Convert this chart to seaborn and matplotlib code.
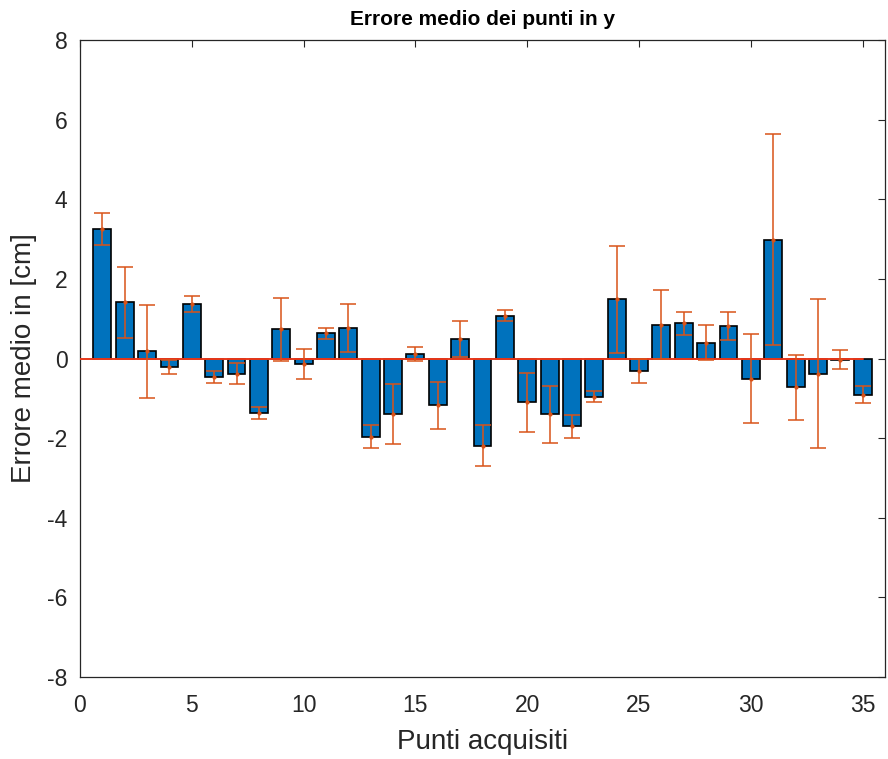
import numpy as np
import pandas as pd
import seaborn as sns
import matplotlib
matplotlib.use("Agg")
import matplotlib.pyplot as plt

# Mean error in y for each acquired point, with its spread
punti = list(range(1, 36))
errore_medio = [3.25, 1.41, 0.18, -0.21, 1.37, -0.46, -0.38, -1.36, 0.73, -0.13,
                0.63, 0.77, -1.96, -1.40, 0.11, -1.18, 0.48, -2.19, 1.08, -1.10,
                -1.40, -1.70, -0.96, 1.49, -0.31, 0.85, 0.89, 0.40, 0.82, -0.51,
                2.98, -0.72, -0.38, -0.03, -0.91]
deviazione = [0.41, 0.89, 1.16, 0.17, 0.20, 0.15, 0.27, 0.15, 0.80, 0.38,
              0.14, 0.61, 0.30, 0.75, 0.18, 0.58, 0.45, 0.51, 0.14, 0.74,
              0.71, 0.29, 0.14, 1.34, 0.30, 0.87, 0.29, 0.45, 0.36, 1.12,
              2.65, 0.82, 1.88, 0.24, 0.22]

x_ticks = [0, 5, 10, 15, 20, 25, 30, 35]
y_ticks = [-8, -6, -4, -2, 0, 2, 4, 6, 8]

df = pd.DataFrame({"punto": punti, "errore": errore_medio, "dev": deviazione})

sns.set_style("white")
plt.rcParams["font.family"] = ["Liberation Sans", "DejaVu Sans"]
plt.rcParams["axes.unicode_minus"] = False

fig = plt.figure(figsize=(8.88, 7.59), dpi=100)
ax = fig.add_axes([80 / 888, 1 - 677 / 759, 805 / 888, 637 / 759])

blu = "#0072BD"
arancio = "#D95319"

sns.barplot(data=df, x="punto", y="errore", native_scale=True, width=0.8,
            color=blu, saturation=1, edgecolor="black", linewidth=1.2,
            errorbar=None, ax=ax, zorder=2)

# zero reference line
ax.plot([0, 35], [0, 0], color="#E8381A", linewidth=1.4, zorder=3)

ax.errorbar(df["punto"], df["errore"], yerr=df["dev"], fmt=".", markersize=4,
            color=arancio, ecolor=arancio, elinewidth=1.1, capsize=5.5,
            capthick=1.1, zorder=4)

ax.set_xlim(0, 36)
ax.set_ylim(-8, 8)
ax.set_xticks(x_ticks)
ax.set_yticks(y_ticks)
ax.tick_params(axis="both", which="both", direction="in", length=5, width=0.8,
               labelsize=16.5, colors="#262626", top=True, right=True)
ax.tick_params(axis="x", pad=12)
ax.tick_params(axis="y", pad=9)
for s in ax.spines.values():
    s.set_visible(True)
    s.set_color("#262626")
    s.set_linewidth(0.9)

ax.set_xlabel("Punti acquisiti", fontsize=20, color="#262626", labelpad=9)
ax.set_ylabel("Errore medio in [cm]", fontsize=20, color="#262626", labelpad=7)
ax.set_title("Errore medio dei punti in y", fontsize=15, fontweight="bold",
             color="black", pad=11)

fig.savefig("out.png", dpi=100)
